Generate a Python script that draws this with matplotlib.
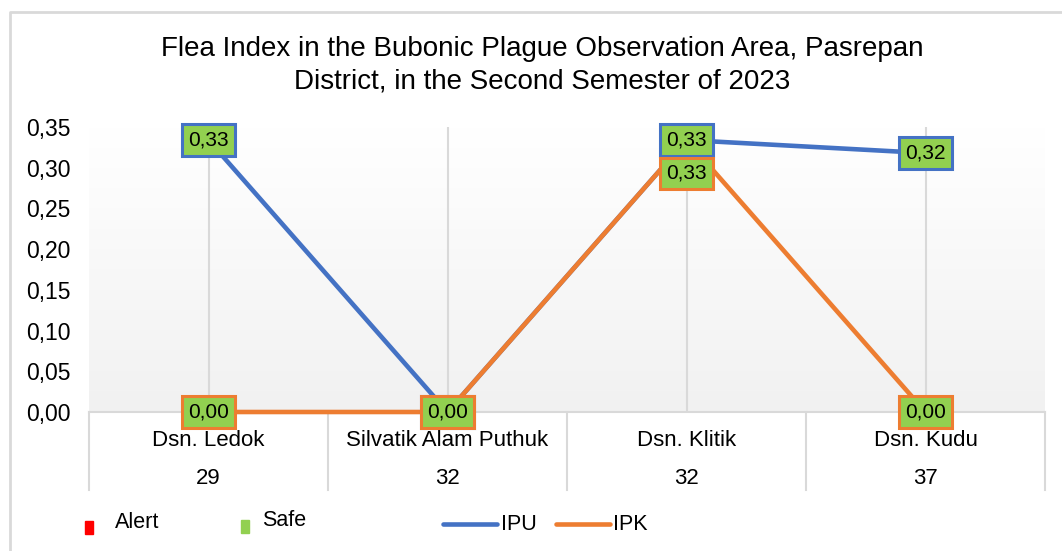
import matplotlib.pyplot as plt
import numpy as np
from matplotlib.lines import Line2D
from matplotlib.patches import Rectangle
from matplotlib.transforms import blended_transform_factory

plt.rcParams["font.family"] = ["Liberation Sans", "DejaVu Sans"]

categories = ["Dsn. Ledok", "Silvatik Alam Puthuk", "Dsn. Klitik", "Dsn. Kudu"]
counts = ["29", "32", "32", "37"]
ipu = [0.334, 0.0, 0.334, 0.318]
ipk = [0.0, 0.0, 0.334, 0.0]
ipu_labels = ["0,33", "0,00", "0,33", "0,32"]
ipk_labels = ["0,00", "0,00", "0,33", "0,00"]
ipk_offsets = [0, 0, -24, 0]
y_ticks = [0.0, 0.05, 0.10, 0.15, 0.20, 0.25, 0.30, 0.35]

W, H = 1062, 551
BLUE, ORANGE, GREEN, RED = "#4472C4", "#ED7D31", "#92D050", "#FF0000"
GRID = "#d9d9d9"


def fx(px):
    return px / W


def fy(py):
    return 1 - py / H


fig = plt.figure(figsize=(W / 100, H / 100), dpi=100)
ax = fig.add_axes([fx(89), fy(412), fx(1045) - fx(89), fy(127) - fy(412)])

x = np.arange(len(categories))
ax.set_xlim(-0.5, len(categories) - 0.5)
ax.set_ylim(0, 0.35)

# gradient plot background
grad = np.linspace(1.0, 0.945, 256).reshape(-1, 1)
ax.imshow(np.dstack([grad, grad, grad]), extent=[-0.5, 3.5, 0, 0.35],
          aspect="auto", origin="upper", zorder=0)

for xi in x:
    ax.axvline(xi, color=GRID, lw=1.5, zorder=1)

ax.plot(x, ipu, color=BLUE, lw=3.3, zorder=3, solid_capstyle="round", clip_on=False)
ax.plot(x, ipk, color=ORANGE, lw=3.3, zorder=4, solid_capstyle="round", clip_on=False)

for xi, yi, lab in zip(x, ipu, ipu_labels):
    ax.annotate(lab, (xi, yi), xytext=(0, 0), textcoords="offset points",
                ha="center", va="center", fontsize=15, zorder=5,
                bbox=dict(boxstyle="square,pad=0.3", fc=GREEN, ec=BLUE, lw=2.2))
for xi, yi, lab, off in zip(x, ipk, ipk_labels, ipk_offsets):
    ax.annotate(lab, (xi, yi), xytext=(0, off), textcoords="offset points",
                ha="center", va="center", fontsize=15, zorder=6,
                bbox=dict(boxstyle="square,pad=0.3", fc=GREEN, ec=ORANGE, lw=2.2))

ax.set_yticks(y_ticks)
ax.set_yticklabels([f"{v:.2f}".replace(".", ",") for v in y_ticks], fontsize=16.5)
ax.tick_params(axis="y", length=0, pad=13.5)
ax.set_xticks([])
for s in ax.spines.values():
    s.set_visible(False)

# category table below the axis
trans = blended_transform_factory(ax.transData, ax.transAxes)
ax.plot([-0.5, 3.5], [0, 0], color=GRID, lw=1.5, transform=trans, clip_on=False, zorder=2)
for b in np.arange(-0.5, 4.0, 1.0):
    ax.plot([b, b], [0, -78 / 285], color=GRID, lw=1.5, transform=trans, clip_on=False)
for xi, cat, n in zip(x, categories, counts):
    ax.text(xi, -28 / 285, cat, transform=trans, ha="center", va="center", fontsize=16)
    ax.text(xi, -66 / 285, n, transform=trans, ha="center", va="center", fontsize=16)

fig.text(fx(542), fy(49), "Flea Index in the Bubonic Plague Observation Area, Pasrepan",
         ha="center", va="center", fontsize=20)
fig.text(fx(542), fy(81), "District, in the Second Semester of 2023",
         ha="center", va="center", fontsize=20)

# legend
fig.add_artist(Rectangle((fx(85), fy(534)), fx(8), 13 / H, color=RED, transform=fig.transFigure))
fig.text(fx(115), fy(523), "Alert", ha="left", va="center", fontsize=15.5)
fig.add_artist(Rectangle((fx(241), fy(533)), fx(8), 13 / H, color=GREEN, transform=fig.transFigure))
fig.text(fx(262), fy(520), "Safe", ha="left", va="center", fontsize=15.5)
fig.add_artist(Line2D([fx(443), fx(497)], [fy(524), fy(524)], color=BLUE, lw=3.3,
                      solid_capstyle="round", transform=fig.transFigure))
fig.text(fx(501), fy(525), "IPU", ha="left", va="center", fontsize=15.5)
fig.add_artist(Line2D([fx(556), fx(610)], [fy(524), fy(524)], color=ORANGE, lw=3.3,
                      solid_capstyle="round", transform=fig.transFigure))
fig.text(fx(613), fy(525), "IPK", ha="left", va="center", fontsize=15.5)

# chart border
fig.add_artist(Line2D([fx(10), fx(10), 1.0], [0.0, fy(12), fy(12)], color=GRID, lw=2,
                      transform=fig.transFigure))

fig.savefig("out.png", dpi=100)
